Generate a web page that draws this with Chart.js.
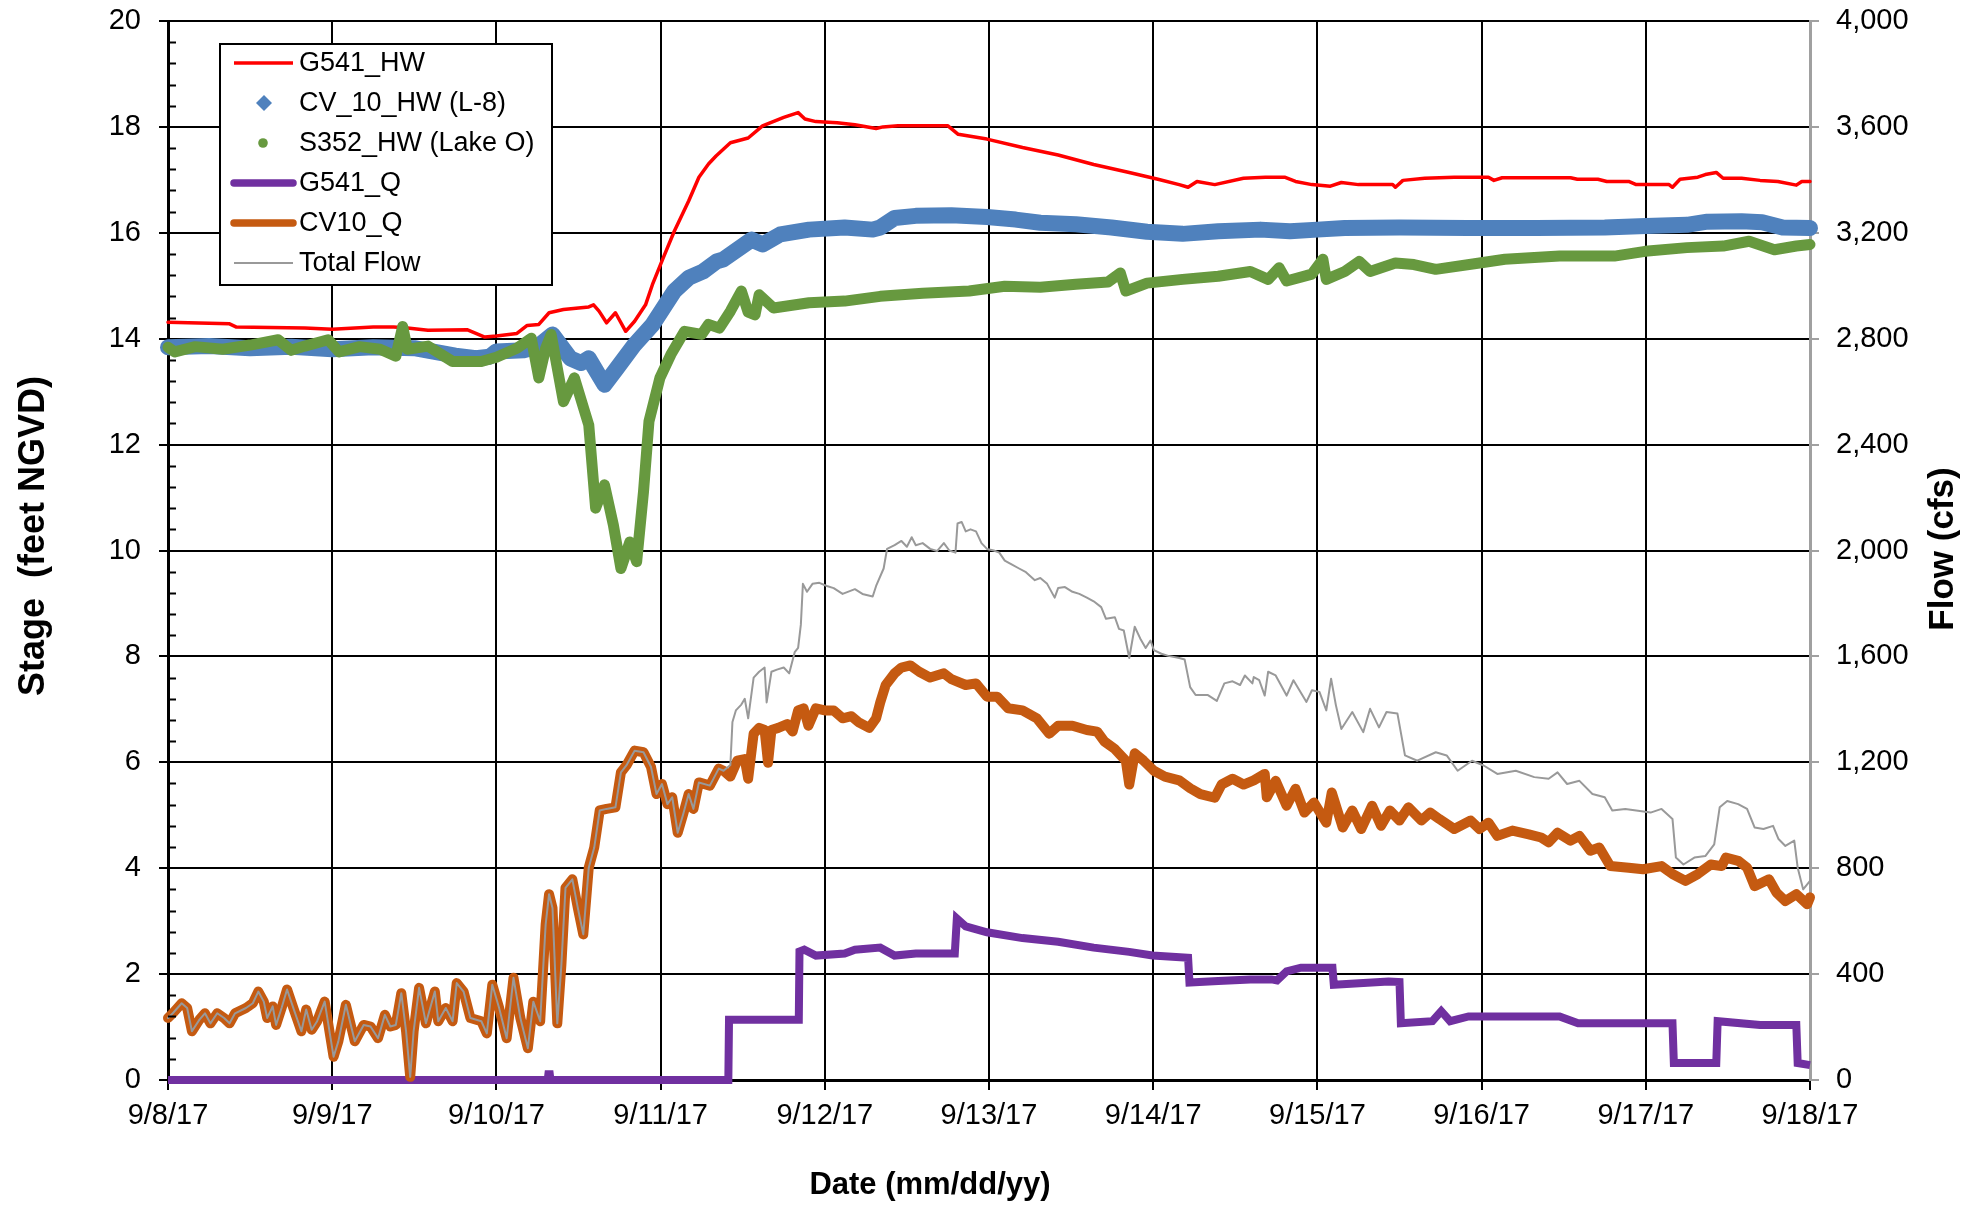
<!DOCTYPE html>
<html>
<head>
<meta charset="utf-8">
<title>G541 / CV10 stage and flow</title>
<script src="https://cdn.jsdelivr.net/npm/chart.js@4.4.1/dist/chart.umd.min.js"></script>
<style>
  html, body { margin: 0; padding: 0; background: #fff; }
  #wrap { width: 1975px; height: 1205px; }
</style>
</head>
<body>
<div id="wrap"><canvas id="myChart" width="1975" height="1205"></canvas></div>
<script>
// x values are hours after 9/8/17 00:00
const dateLabels = ['9/8/17', '9/9/17', '9/10/17', '9/11/17', '9/12/17', '9/13/17',
  '9/14/17', '9/15/17', '9/16/17', '9/17/17', '9/18/17'];

// headwater stages, feet NGVD  [hour, stage]
const g541Hw = [[0,14.31],[9,14.28],[10,14.22],[20,14.2],[24,14.18],[30,14.22],[33,14.22],[35,14.2],
  [38,14.16],[43.7,14.17],[46.3,14.03],[48,14.05],[51,14.1],[52.5,14.25],[54.2,14.27],[55.7,14.49],
  [57.8,14.55],[60,14.58],[61.5,14.6],[62.2,14.64],[63,14.52],[64.1,14.3],[65.4,14.49],[66.9,14.14],
  [68.2,14.33],[69.8,14.64],[70.8,15.02],[72.4,15.53],[74,16.03],[76.1,16.6],[77.6,17.05],[79,17.3],
  [80.1,17.45],[82.2,17.7],[84.8,17.79],[86.9,18.02],[90,18.18],[92.1,18.27],[93.1,18.15],[94.7,18.1],
  [97.8,18.08],[100.4,18.04],[103.5,17.97],[104.5,18.0],[106.7,18.02],[114,18.02],[115.5,17.86],
  [119.7,17.77],[124.9,17.61],[130.1,17.47],[135.3,17.29],[140.5,17.14],[144.7,17.01],[147.8,16.91],
  [149.1,16.86],[150.4,16.97],[153,16.91],[157.2,17.03],[160.4,17.05],[163.2,17.05],[164.8,16.97],
  [167.2,16.91],[169.9,16.88],[171.5,16.95],[174,16.91],[179,16.91],[179.4,16.86],[180.5,16.99],
  [183.7,17.03],[188,17.05],[193,17.05],[193.8,16.99],[195,17.04],[205,17.04],[206,17.01],[209,17.01],
  [210.3,16.97],[213.5,16.97],[214.6,16.91],[219.4,16.91],[219.9,16.86],[221,17.01],[223.6,17.05],
  [224.7,17.1],[226.3,17.14],[227.3,17.03],[230,17.03],[232.7,16.99],[235.3,16.97],[238,16.9],
  [238.8,16.97],[240,16.97]];

const cv10Hw = [[0,13.84],[6,13.86],[12,13.82],[18,13.85],[24,13.8],[30,13.84],[36,13.82],[42,13.68],
  [45,13.63],[47,13.66],[48,13.76],[52,13.78],[54,13.85],[56.2,14.08],[58.8,13.63],[60.4,13.54],
  [61.5,13.63],[63.8,13.13],[65.6,13.44],[68.2,13.89],[70.8,14.26],[74,14.9],[76.1,15.15],[78.2,15.27],
  [80.2,15.46],[81.2,15.5],[85.3,15.87],[86.9,15.78],[89.5,15.97],[93.7,16.06],[98.9,16.1],[103,16.06],
  [104.1,16.1],[106.2,16.28],[109.3,16.32],[114.5,16.33],[119.7,16.3],[123.9,16.25],[127.5,16.19],
  [132.7,16.16],[137.9,16.1],[143.1,16.02],[148.3,15.98],[153.5,16.03],[159.7,16.06],[164,16.03],
  [168,16.06],[172,16.09],[180,16.1],[190,16.09],[200,16.09],[210,16.1],[216,16.13],[222,16.15],
  [225,16.21],[230,16.22],[233,16.2],[236,16.1],[240,16.09]];

const s352Hw = [[0,13.84],[1,13.75],[4,13.85],[8,13.8],[12,13.88],[16.1,13.98],[18,13.78],[20,13.86],
  [23.4,13.98],[25,13.75],[28,13.85],[31,13.8],[33.3,13.67],[34.3,14.23],[35,13.8],[38,13.86],
  [41.6,13.57],[45.8,13.57],[48,13.65],[51,13.82],[53.1,14.01],[54.2,13.26],[55.2,13.82],[56,14.08],
  [57.8,12.81],[59.4,13.26],[61.5,12.37],[62.5,10.8],[63.8,11.24],[65.1,10.48],[66.2,9.66],[67.5,10.16],
  [68.5,9.79],[69.5,11.11],[70.3,12.44],[71.9,13.26],[73.5,13.7],[75.5,14.14],[78,14.08],[79,14.27],
  [80.6,14.2],[82.2,14.52],[83.8,14.9],[84.8,14.5],[85.8,14.45],[86.4,14.83],[88.5,14.58],[93.7,14.68],
  [98.9,14.71],[104.1,14.8],[110.3,14.86],[117.1,14.9],[122.3,14.99],[127.5,14.97],[132.7,15.03],
  [137.4,15.07],[139.2,15.24],[140,14.9],[143.1,15.05],[148.3,15.12],[153.5,15.18],[158.2,15.27],
  [160.8,15.12],[162.4,15.34],[163.5,15.09],[167.2,15.22],[168.8,15.5],[169.3,15.12],[172,15.27],
  [174.1,15.46],[175.7,15.27],[179.4,15.43],[182.1,15.4],[185.3,15.31],[191.7,15.43],[195.4,15.5],
  [203.4,15.56],[211.4,15.56],[215.9,15.65],[222,15.72],[227.3,15.75],[231.1,15.84],[234.8,15.68],
  [238,15.75],[240,15.78]];

// flows, cfs  [hour, flow]
const g541Q = [[0,0],[55.5,0],[55.6,22],[55.8,22],[55.9,0],[81.9,0],[82,228],[92.2,228],[92.3,485],[93,492],
  [94.7,470],[98.9,478],[100.4,492],[104.1,500],[106.2,470],[109.3,478],[115,478],[115.3,610],
  [116.6,580],[119.7,558],[124.9,536],[130.1,522],[135.3,500],[140.5,484],[143.9,470],[149.1,462],
  [149.3,368],[153.5,374],[158.2,380],[161.3,380],[162.1,376],[163.5,410],[165.6,424],[170.2,424],
  [170.4,360],[178.4,372],[180,370],[180.2,214],[184.8,222],[186.1,260],[187.4,222],[190.1,240],
  [203.4,240],[206.1,214],[219.9,214],[220.1,64],[226.3,64],[226.5,222],[232.7,208],[238,208],
  [238.2,64],[240,56]];

const cv10Q = [[0,234],[0.7,252],[2,290],[2.8,272],[3.5,184],[4.6,228],[5.4,252],[6.2,214],[7.2,252],
  [8.2,234],[9,214],[9.8,252],[11.4,272],[12.4,290],[13.2,334],[14,296],[14.5,234],[15.3,278],
  [15.8,208],[16.6,272],[17.4,342],[18.4,266],[19.5,184],[20.2,266],[21,190],[21.8,222],[22.9,296],
  [24.2,88],[24.9,146],[26,284],[27.3,146],[28.6,208],[29.6,202],[30.7,158],[31.7,246],[32.5,202],
  [33.3,208],[34.1,328],[34.8,184],[35.4,12],[35.9,184],[36.7,348],[37.7,214],[39,334],[39.5,222],
  [40.6,272],[41.6,222],[42.2,366],[43.2,334],[44.2,234],[45.8,222],[46.6,176],[47.4,360],[48.4,272],
  [49.5,158],[50.5,386],[51.5,234],[52.6,120],[53.4,296],[54.4,222],[55.2,588],[55.7,702],[56.2,650],
  [56.9,214],[57.5,436],[58.1,726],[59.1,758],[59.9,650],[60.7,550],[61.5,802],[62.3,878],[63.1,1018],
  [64.1,1024],[65.4,1030],[66.2,1162],[67,1188],[68.2,1244],[69.5,1238],[70.6,1182],[71.4,1080],
  [72.2,1118],[73,1042],[73.7,1068],[74.5,934],[75.3,1004],[76.1,1080],[76.8,1024],[77.6,1124],
  [79.2,1112],[80.5,1176],[81.2,1168],[82.2,1146],[83.2,1206],[84.3,1212],[84.8,1138],[85.6,1308],
  [86.4,1330],[87.2,1322],[87.7,1198],[88.2,1322],[89.2,1330],[90.5,1344],[91.3,1316],[92.1,1396],
  [92.9,1404],[93.6,1338],[94.7,1404],[96,1396],[97.3,1396],[98.6,1366],[99.9,1374],[100.9,1352],
  [102.5,1330],[103.5,1366],[104.1,1426],[104.9,1492],[106.2,1536],[107.2,1558],[108.5,1566],
  [109.8,1542],[111.4,1520],[113.4,1536],[114.5,1514],[116.6,1492],[118.1,1498],[119.7,1448],
  [121.2,1448],[122.8,1404],[124.9,1396],[127,1366],[128.8,1308],[130.1,1338],[132.2,1338],
  [134.3,1322],[135.8,1316],[136.9,1278],[138.4,1250],[140,1206],[140.5,1116],[141.3,1234],
  [142.6,1206],[144.1,1168],[145.7,1146],[147.8,1132],[149.4,1102],[150.9,1080],[153,1066],
  [154,1116],[155.6,1138],[157.2,1116],[158.7,1132],[160.3,1156],[160.6,1068],[161.9,1130],
  [163.5,1036],[164.8,1100],[166.1,1010],[167.5,1048],[169.3,972],[170.1,1086],[171.7,954],
  [173.1,1018],[174.4,948],[176,1036],[177.3,960],[178.6,1018],[180,980],[181.3,1030],[183.2,980],
  [184.5,1010],[185.8,986],[188,948],[190.4,980],[191.7,948],[193,972],[194.3,922],[196.5,942],
  [198.9,928],[200.7,916],[201.8,898],[203.1,934],[205,904],[206.3,922],[207.9,866],[209.2,878],
  [210.8,808],[213.5,802],[215.6,796],[218.3,808],[219.9,778],[221.8,752],[223.6,778],[225.5,814],
  [227.1,808],[227.7,840],[229.5,828],[230.8,802],[231.9,732],[234,758],[235.1,708],[236.4,676],
  [238,702],[239.6,664],[240,690]];

// total flow once G541 starts pumping; before that it equals CV10_Q
const totalFlowLate = [[82.2,1190],[82.5,1352],[83,1396],[83.8,1418],[84.3,1440],[84.8,1366],
  [85.6,1520],[86.4,1542],[87.2,1558],[87.5,1426],[88.2,1542],[89,1550],[90,1558],[90.8,1536],
  [91.6,1616],[92.1,1632],[92.5,1720],[92.8,1874],[93.4,1844],[94.2,1874],[95.2,1878],[96.3,1866],
  [97.3,1858],[98.6,1836],[100.4,1854],[101.5,1836],[103,1826],[103.5,1866],[104.6,1932],[105.1,2006],
  [106.2,2020],[107.2,2036],[108,2014],[108.7,2050],[109.3,2020],[110.3,2028],[111.4,2006],[112.4,1998],
  [113.4,2028],[114.2,2000],[115.1,1992],[115.4,2102],[116,2108],[116.6,2072],[117.3,2080],[118.1,2072],
  [118.9,2028],[119.7,2006],[120.7,2000],[121.5,1992],[122.3,1962],[123.3,1948],[124.4,1932],
  [125.4,1918],[126.7,1888],[127.5,1896],[128.5,1874],[129.6,1822],[130.1,1858],[131.1,1862],
  [132.2,1844],[133.2,1836],[134.3,1822],[135.3,1808],[136.4,1786],[137.1,1742],[138.4,1748],
  [139,1704],[139.7,1698],[140.5,1594],[141.3,1712],[142.1,1668],[142.9,1632],[143.6,1660],
  [144.1,1624],[145.2,1610],[146.2,1602],[147.8,1594],[148.6,1588],[149.4,1484],[150.2,1454],
  [152,1454],[153.3,1432],[154.4,1498],[155.6,1506],[156.7,1492],[157.4,1528],[158.5,1498],
  [158.7,1522],[159.5,1510],[160.3,1452],[160.8,1542],[161.9,1528],[163.5,1452],[164.5,1510],
  [166.4,1428],[167.2,1472],[168.3,1466],[169.3,1396],[170,1516],[170.7,1416],[171.5,1326],
  [173.1,1390],[174.7,1314],[175.7,1402],[177,1332],[178.1,1390],[179.7,1384],[180.8,1226],
  [182.6,1206],[185.3,1238],[186.9,1226],[188.5,1168],[190.6,1206],[192.3,1188],[194.3,1156],
  [197,1168],[199.7,1144],[201.8,1138],[203.1,1162],[204.5,1118],[206.3,1130],[208.2,1080],
  [210,1068],[211.1,1018],[213,1024],[214.6,1018],[216.7,1010],[218.3,1024],[219.9,986],[220.4,840],
  [221.5,814],[223.1,840],[224.7,846],[226,890],[226.8,1030],[227.9,1054],[229.5,1042],[230.8,1024],
  [231.9,954],[233.2,948],[234.6,960],[235.4,910],[236.4,884],[237.7,904],[238.2,802],[239,720],
  [240,752]];

const totalFlow = cv10Q.filter(p => p[0] < 82).concat(totalFlowLate);

const pts = arr => arr.map(([x, y]) => ({ x, y }));

const FONT = '"Liberation Sans", Arial, sans-serif';
Chart.defaults.font.family = FONT;
Chart.defaults.color = '#000';

// legend box drawn inside the plot, top left
const boxLegend = {
  id: 'boxLegend',
  afterDatasetsDraw(chart) {
    const ctx = chart.ctx;
    const left = 220, top = 44, w = 332, h = 241;
    ctx.save();
    ctx.fillStyle = '#fff';
    ctx.fillRect(left, top, w, h);
    ctx.strokeStyle = '#000';
    ctx.lineWidth = 2;
    ctx.strokeRect(left, top, w, h);
    ctx.font = '27px ' + FONT;
    ctx.textBaseline = 'middle';
    chart.data.datasets.forEach((ds, i) => {
      const y = 63 + i * 40;
      const col = ds.borderColor;
      if (ds.legendMark === 'diamond') {
        ctx.fillStyle = col;
        ctx.beginPath();
        ctx.moveTo(264, y - 8); ctx.lineTo(272, y); ctx.lineTo(264, y + 8); ctx.lineTo(256, y);
        ctx.closePath(); ctx.fill();
      } else if (ds.legendMark === 'dot') {
        ctx.fillStyle = col;
        ctx.beginPath(); ctx.arc(263, y, 4.8, 0, Math.PI * 2); ctx.fill();
      } else {
        ctx.strokeStyle = col;
        ctx.lineWidth = ds.legendWidth;
        ctx.lineCap = ds.legendWidth > 4 ? 'round' : 'butt';
        ctx.beginPath(); ctx.moveTo(234, y); ctx.lineTo(293, y); ctx.stroke();
      }
      ctx.fillStyle = '#000';
      ctx.fillText(ds.label, 299, y + 1);
    });
    ctx.restore();
  }
};

// axis titles and the small inward ticks on the stage axis
const extras = {
  id: 'extras',
  afterDraw(chart) {
    const ctx = chart.ctx;
    const ys = chart.scales.y;
    ctx.save();
    ctx.strokeStyle = '#000';
    ctx.lineWidth = 2;
    for (let k = 0; k <= 50; k++) {
      if (k % 5 === 0) continue;
      const py = Math.round(ys.getPixelForValue(k * 0.4)) + 0.5;
      ctx.beginPath(); ctx.moveTo(ys.right, py); ctx.lineTo(ys.right + 8, py); ctx.stroke();
    }
    ctx.fillStyle = '#000';
    ctx.textAlign = 'center';
    ctx.textBaseline = 'middle';
    ctx.font = 'bold 31px ' + FONT;
    ctx.fillText('Date (mm/dd/yy)', 930, 1185);
    ctx.font = 'bold 36px ' + FONT;
    ctx.translate(34, 536);
    ctx.rotate(-Math.PI / 2);
    ctx.fillText('Stage  (feet NGVD)', 0, 0);
    ctx.restore();
    ctx.save();
    ctx.fillStyle = '#000';
    ctx.textAlign = 'center';
    ctx.textBaseline = 'middle';
    ctx.font = 'bold 35px ' + FONT;
    ctx.translate(1943, 549);
    ctx.rotate(-Math.PI / 2);
    ctx.fillText('Flow (cfs)', 0, 0);
    ctx.restore();
  }
};

const line = (label, data, axis, color, width, order, extra) => Object.assign({
  label, data: pts(data), yAxisID: axis, borderColor: color, backgroundColor: color,
  borderWidth: width, pointRadius: 0, pointHitRadius: 0, tension: 0, fill: false,
  borderJoinStyle: 'round', borderCapStyle: 'round', clip: false, order
}, extra);

// fixed axis sizes so the plot area lands where it should
const fixY = w => s => { s.width = w; s.paddingTop = 0; s.paddingBottom = 0; };

new Chart(document.getElementById('myChart'), {
  type: 'line',
  data: {
    datasets: [
      line('G541_HW', g541Hw, 'y', '#FF0000', 3.5, 6, { legendWidth: 3.5 }),
      line('CV_10_HW (L-8)', cv10Hw, 'y', '#4F81BD', 16, 5, { legendMark: 'diamond' }),
      line('S352_HW (Lake O)', s352Hw, 'y', '#67993F', 11, 4, { legendMark: 'dot' }),
      line('G541_Q', g541Q, 'y1', '#7030A0', 8, 3, { legendWidth: 7.5, borderJoinStyle: 'miter', borderCapStyle: 'butt' }),
      line('CV10_Q', cv10Q, 'y1', '#C55A11', 10, 2, { legendWidth: 7.5 }),
      line('Total Flow', totalFlow, 'y1', '#999999', 2, 1, { legendWidth: 2 })
    ]
  },
  options: {
    responsive: false,
    devicePixelRatio: 1,
    animation: false,
    events: [],
    layout: { padding: { top: 21, left: 0, right: 0, bottom: 0 } },
    plugins: { legend: { display: false }, tooltip: { enabled: false } },
    scales: {
      x: {
        type: 'linear', min: 0, max: 240,
        afterFit: s => { s.height = 125; s.paddingLeft = 0; s.paddingRight = 0; },
        afterBuildTicks: s => { s.ticks = dateLabels.map((_, i) => ({ value: i * 24 })); },
        ticks: {
          callback: v => dateLabels[Math.round(v / 24)],
          font: { size: 29 }, color: '#000', maxRotation: 0, autoSkip: false, padding: 9
        },
        grid: { color: '#000', lineWidth: 2, tickLength: 10 },
        border: { color: '#000', width: 3 }
      },
      y: {
        position: 'left', min: 0, max: 20,
        afterFit: fixY(168),
        ticks: { stepSize: 2, font: { size: 29 }, color: '#000', padding: 18 },
        grid: { color: '#000', lineWidth: 2, tickLength: 9 },
        border: { color: '#000', width: 3 }
      },
      y1: {
        position: 'right', min: 0, max: 4000,
        afterFit: fixY(165),
        ticks: { stepSize: 400, font: { size: 29 }, color: '#000', padding: 17,
          callback: v => v.toLocaleString('en-US') },
        grid: { drawOnChartArea: false, color: '#A0A0A0', lineWidth: 2, tickLength: 9 },
        border: { color: '#A0A0A0', width: 3 }
      }
    }
  },
  plugins: [boxLegend, extras]
});
</script>
</body>
</html>
